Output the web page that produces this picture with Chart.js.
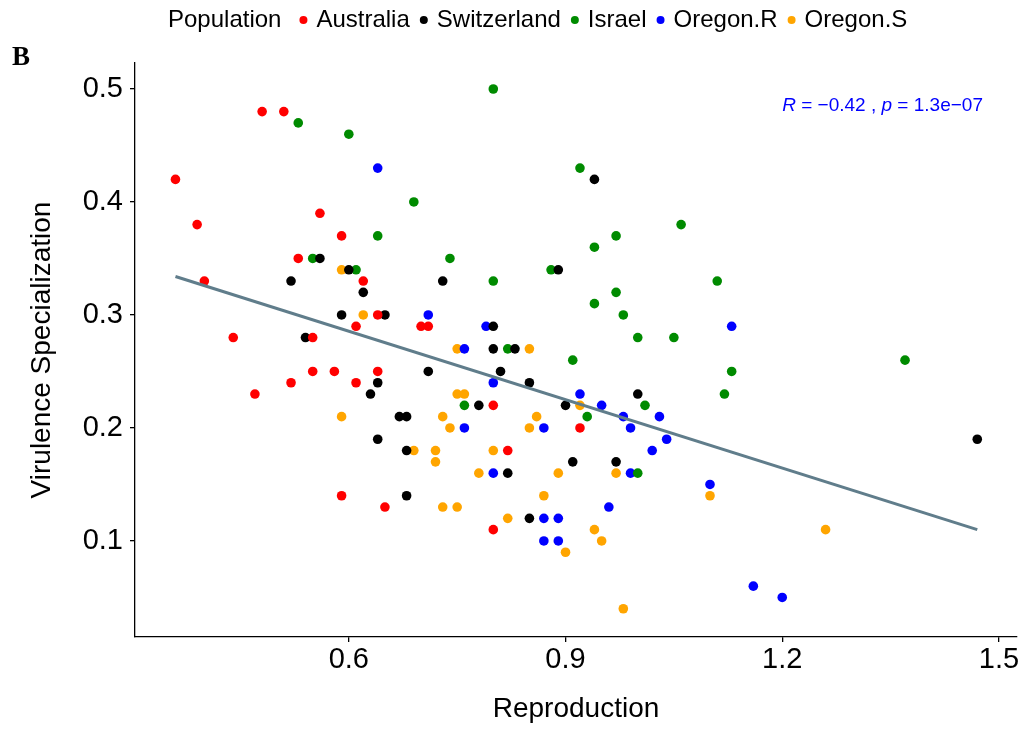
<!DOCTYPE html>
<html>
<head>
<meta charset="utf-8">
<title>Virulence Specialization vs Reproduction</title>
<script src="https://cdn.jsdelivr.net/npm/chart.js@4.4.1/dist/chart.umd.min.js"></script>
<style>
  html, body { margin: 0; padding: 0; background: #fff; }
  canvas { display: block; }
</style>
</head>
<body>
<canvas id="chart" width="1026" height="729"></canvas>
<script>
'use strict';

// ─── Data ────────────────────────────────────────────────────────────────────

const populations = ['Australia', 'Switzerland', 'Israel', 'Oregon.R', 'Oregon.S'];
const popColors   = ['#ff0000', '#000000', '#008b00', '#0000ff', '#ffa500'];

const australiaX = [0.48, 0.51, 0.36, 0.39, 0.56, 0.59, 0.53, 0.40, 0.62, 0.61, 0.70, 0.71, 0.64, 0.44,
                    0.55, 0.55, 0.58, 0.64, 0.52, 0.61, 0.47, 0.59, 0.65, 0.80, 0.92, 0.82, 0.80];
const australiaY = [0.48, 0.48, 0.42, 0.38, 0.39, 0.37, 0.35, 0.33, 0.33, 0.29, 0.29, 0.29, 0.30, 0.28,
                    0.28, 0.25, 0.25, 0.25, 0.24, 0.24, 0.23, 0.14, 0.13, 0.22, 0.20, 0.18, 0.11];

const switzerlandX = [0.56, 0.60, 0.52, 0.62, 0.59, 0.65, 0.54, 0.71, 0.64, 0.63, 0.67, 0.68, 0.64, 0.68, 0.68, 0.94,
                      0.89, 0.73, 0.80, 0.80, 0.83, 0.81, 0.85, 1.00, 0.78, 0.90, 0.91, 0.97, 0.82, 0.85, 1.47];
const switzerlandY = [0.35, 0.34, 0.33, 0.32, 0.30, 0.30, 0.28, 0.25, 0.24, 0.23, 0.21, 0.21, 0.19, 0.18, 0.14, 0.42,
                      0.34, 0.33, 0.29, 0.27, 0.27, 0.25, 0.24, 0.23, 0.22, 0.22, 0.17, 0.17, 0.16, 0.12, 0.19];

const israelX = [0.53, 0.60, 0.69, 0.64, 0.55, 0.61, 0.80, 0.92, 1.06, 0.97, 0.94, 0.74, 0.88, 0.80, 1.11,
                 0.97, 0.94, 0.98, 1.00, 1.05, 0.82, 0.91, 0.76, 1.01, 0.93, 1.00, 1.37, 1.13, 1.12];
const israelY = [0.47, 0.46, 0.40, 0.37, 0.35, 0.34, 0.50, 0.43, 0.38, 0.37, 0.36, 0.35, 0.34, 0.33, 0.33,
                 0.32, 0.31, 0.30, 0.28, 0.28, 0.27, 0.26, 0.22, 0.22, 0.21, 0.16, 0.26, 0.25, 0.23];

const oregonRX = [0.64, 0.71, 0.79, 0.76, 0.80, 0.92, 0.95, 0.98, 1.03, 0.76, 0.87, 0.99, 1.04,
                  1.02, 0.80, 0.99, 1.10, 0.96, 0.87, 0.89, 0.87, 0.89, 1.13, 1.16, 1.20];
const oregonRY = [0.43, 0.30, 0.29, 0.27, 0.24, 0.23, 0.22, 0.21, 0.21, 0.20, 0.20, 0.20, 0.19,
                  0.18, 0.16, 0.16, 0.15, 0.13, 0.12, 0.12, 0.10, 0.10, 0.29, 0.06, 0.05];

const oregonSX = [0.59, 0.62, 0.75, 0.85, 0.75, 0.76, 0.92, 0.59, 0.73, 0.86, 0.74, 0.85, 0.69, 0.72, 0.80,
                  0.72, 0.78, 0.89, 0.97, 1.10, 0.87, 0.73, 0.75, 0.82, 0.94, 0.95, 0.90, 0.98, 1.26];
const oregonSY = [0.34, 0.30, 0.27, 0.27, 0.23, 0.23, 0.22, 0.21, 0.21, 0.21, 0.20, 0.20, 0.18, 0.18, 0.18,
                  0.17, 0.16, 0.16, 0.16, 0.14, 0.14, 0.13, 0.13, 0.12, 0.11, 0.10, 0.09, 0.04, 0.11];

// regression line end points
const fitX = [0.36, 1.47];
const fitY = [0.334, 0.110];

const xTicks = [0.6, 0.9, 1.2, 1.5];
const yTicks = [0.1, 0.2, 0.3, 0.4, 0.5];

const corText = { r: '-0.42', p: '1.3e-07' };

// ─── Helpers ─────────────────────────────────────────────────────────────────

const FONT = '"Liberation Sans", Arial, Helvetica, sans-serif';
const pts = (xs, ys) => xs.map((x, i) => ({ x, y: ys[i] }));
const seriesX = [australiaX, switzerlandX, israelX, oregonRX, oregonSX];
const seriesY = [australiaY, switzerlandY, israelY, oregonRY, oregonSY];

// ─── Overlay: legend row, panel tag, correlation label ──────────────────────

const overlay = {
  id: 'overlay',
  afterDraw(chart) {
    const ctx = chart.ctx;
    ctx.save();

    // legend across the top
    ctx.font = `24px ${FONT}`;
    ctx.textBaseline = 'alphabetic';
    ctx.fillStyle = '#000';
    let x = 168;
    ctx.fillText('Population', x, 27);
    x += ctx.measureText('Population').width + 22;
    chart.data.datasets.filter(d => d.type === 'scatter').forEach(d => {
      ctx.beginPath();
      ctx.arc(x, 20, 4, 0, Math.PI * 2);
      ctx.fillStyle = d.backgroundColor;
      ctx.fill();
      ctx.fillStyle = '#000';
      ctx.fillText(d.label, x + 13, 27);
      x += 13 + ctx.measureText(d.label).width + 14;
    });

    // panel tag
    ctx.font = `bold 27px "Liberation Serif", "Times New Roman", serif`;
    ctx.fillText('B', 12, 65);

    // correlation label, anchored in data units
    const sx = chart.scales.x, sy = chart.scales.y;
    let cx = sx.getPixelForValue(1.2);
    const cy = sy.getPixelForValue(0.4855);
    ctx.fillStyle = '#0000ff';
    ctx.textBaseline = 'middle';
    const parts = [
      ['italic', 'R'],
      ['normal', ' = \u2212' + corText.r.slice(1) + ' , '],
      ['italic', 'p'],
      ['normal', ' = ' + corText.p.replace('-', '\u2212')],
    ];
    parts.forEach(([style, txt]) => {
      ctx.font = `${style} 19px ${FONT}`;
      ctx.fillText(txt, cx, cy);
      cx += ctx.measureText(txt).width;
    });

    ctx.restore();
  },
};

// ─── Chart ───────────────────────────────────────────────────────────────────

const datasets = populations.map((name, i) => ({
  type: 'scatter',
  label: name,
  data: pts(seriesX[i], seriesY[i]),
  backgroundColor: popColors[i],
  borderWidth: 0,
  pointRadius: 4.8,
  pointHoverRadius: 4.8,
  order: 1,
}));

datasets.push({
  type: 'line',
  label: 'fit',
  data: pts(fitX, fitY),
  borderColor: '#607d8b',
  borderWidth: 3,
  pointRadius: 0,
  fill: false,
  order: 0,
});

const axisLine = { display: true, color: '#000', width: 1.3 };
const tickMarks = { display: true, drawOnChartArea: false, drawTicks: true, tickLength: 5, color: '#000', lineWidth: 1.3 };

new Chart(document.getElementById('chart'), {
  data: { datasets },
  plugins: [overlay],
  options: {
    responsive: false,
    animation: false,
    devicePixelRatio: 1,
    layout: { padding: { top: 63, right: 9, bottom: 0, left: 0 } },
    plugins: {
      legend: { display: false },
      tooltip: { enabled: false },
    },
    scales: {
      x: {
        type: 'linear',
        min: 0.304,
        max: 1.525,
        afterBuildTicks: s => { s.ticks = xTicks.map(v => ({ value: v })); },
        afterFit: s => { s.height = 92; },
        ticks: {
          font: { size: 29, family: FONT },
          color: '#000',
          padding: 1,
          maxRotation: 0,
          callback: v => v.toFixed(1),
        },
        grid: tickMarks,
        border: axisLine,
        title: {
          display: true,
          text: 'Reproduction',
          font: { size: 28, family: FONT },
          color: '#000',
          padding: { top: 0, bottom: 3 },
        },
      },
      y: {
        type: 'linear',
        min: 0.015,
        max: 0.523,
        afterBuildTicks: s => { s.ticks = yTicks.map(v => ({ value: v })); },
        afterFit: s => { s.width = 135; },
        ticks: {
          font: { size: 29, family: FONT },
          color: '#000',
          padding: 7,
          callback: v => v.toFixed(1),
        },
        grid: tickMarks,
        border: axisLine,
        title: {
          display: true,
          text: 'Virulence Specialization',
          font: { size: 28, family: FONT },
          color: '#000',
          padding: { top: 25, bottom: 0 },
        },
      },
    },
  },
});
</script>
</body>
</html>
